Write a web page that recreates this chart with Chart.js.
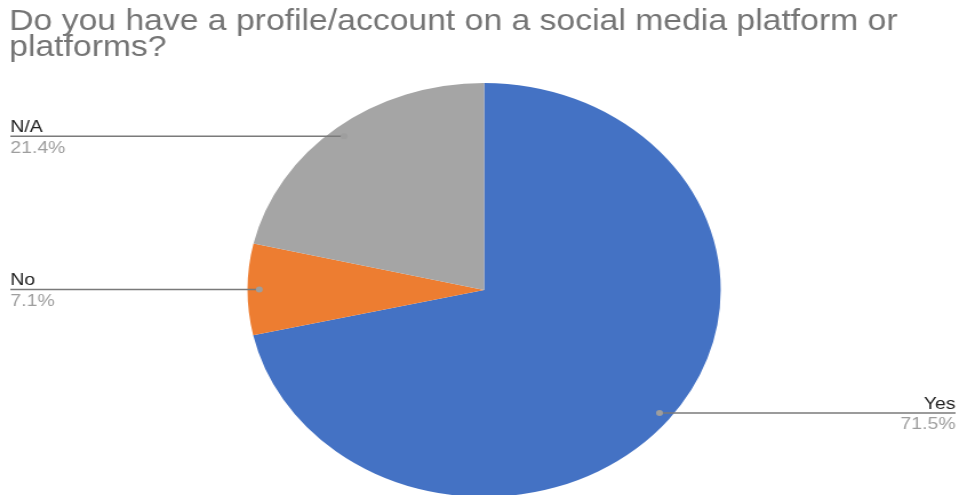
<!DOCTYPE html>
<html>
<head>
<meta charset="utf-8">
<script src="https://cdn.jsdelivr.net/npm/chart.js@4/dist/chart.umd.min.js"></script>
<style>
  html, body { margin: 0; padding: 0; background: #fff; overflow: hidden; }
  #pieChart { display: block; width: 959px; height: 500px; }
</style>
</head>
<body>
<canvas id="pieChart" width="839" height="500" style="width:959px;height:500px"></canvas>
<script>
const titleLines = ['Do you have a profile/account on a social media platform or', 'platforms?'];
const answers = ['Yes', 'No', 'N/A'];
const shares = [71.5, 7.1, 21.4];
const sliceColors = ['#4472C4', '#ED7D31', '#A5A5A5'];

const FONT = "'Liberation Sans', Arial, sans-serif";

// Leader lines from each slice out to the page edge, name above, percent below
const calloutPlugin = {
    id: 'callouts',
    afterDatasetsDraw(chart) {
        const ctx = chart.ctx;
        const meta = chart.getDatasetMeta(0);
        const leftX = 9;
        const rightX = chart.width - 3;

        meta.data.forEach((arc, i) => {
            const p = arc.getProps(['x', 'y', 'startAngle', 'endAngle', 'outerRadius'], true);
            const mid = (p.startAngle + p.endAngle) / 2;
            const dx = p.x + Math.cos(mid) * p.outerRadius * 0.95;
            const dy = p.y + Math.sin(mid) * p.outerRadius * 0.95;
            const onLeft = dx < p.x;
            const endX = onLeft ? leftX : rightX;

            ctx.save();
            ctx.strokeStyle = '#7a7a7a';
            ctx.lineWidth = 1.5;
            ctx.beginPath();
            ctx.moveTo(dx, dy);
            ctx.lineTo(endX, dy);
            ctx.stroke();

            ctx.fillStyle = '#9e9e9e';
            ctx.beginPath();
            ctx.arc(dx, dy, 3, 0, Math.PI * 2);
            ctx.fill();

            ctx.textAlign = onLeft ? 'left' : 'right';
            ctx.textBaseline = 'alphabetic';
            ctx.font = '17px ' + FONT;
            ctx.fillStyle = '#222222';
            ctx.fillText(answers[i], endX, dy - 4);
            ctx.fillStyle = '#9e9e9e';
            ctx.fillText(shares[i].toFixed(1) + '%', endX, dy + 16.5);
            ctx.restore();
        });
    }
};

new Chart(document.getElementById('pieChart'), {
    type: 'pie',
    data: {
        labels: answers,
        datasets: [{
            data: shares,
            backgroundColor: sliceColors,
            borderWidth: 0
        }]
    },
    options: {
        responsive: false,
        animation: false,
        layout: {
            padding: { left: 8, right: 0, top: 0, bottom: 3 }
        },
        plugins: {
            legend: { display: false },
            tooltip: { enabled: false },
            title: {
                display: true,
                text: titleLines,
                align: 'start',
                color: '#757575',
                font: { family: FONT, size: 29.5, weight: 'normal', lineHeight: 0.9 },
                padding: { top: 8.5, bottom: 21.4 }
            }
        }
    },
    plugins: [calloutPlugin]
});
</script>
</body>
</html>
